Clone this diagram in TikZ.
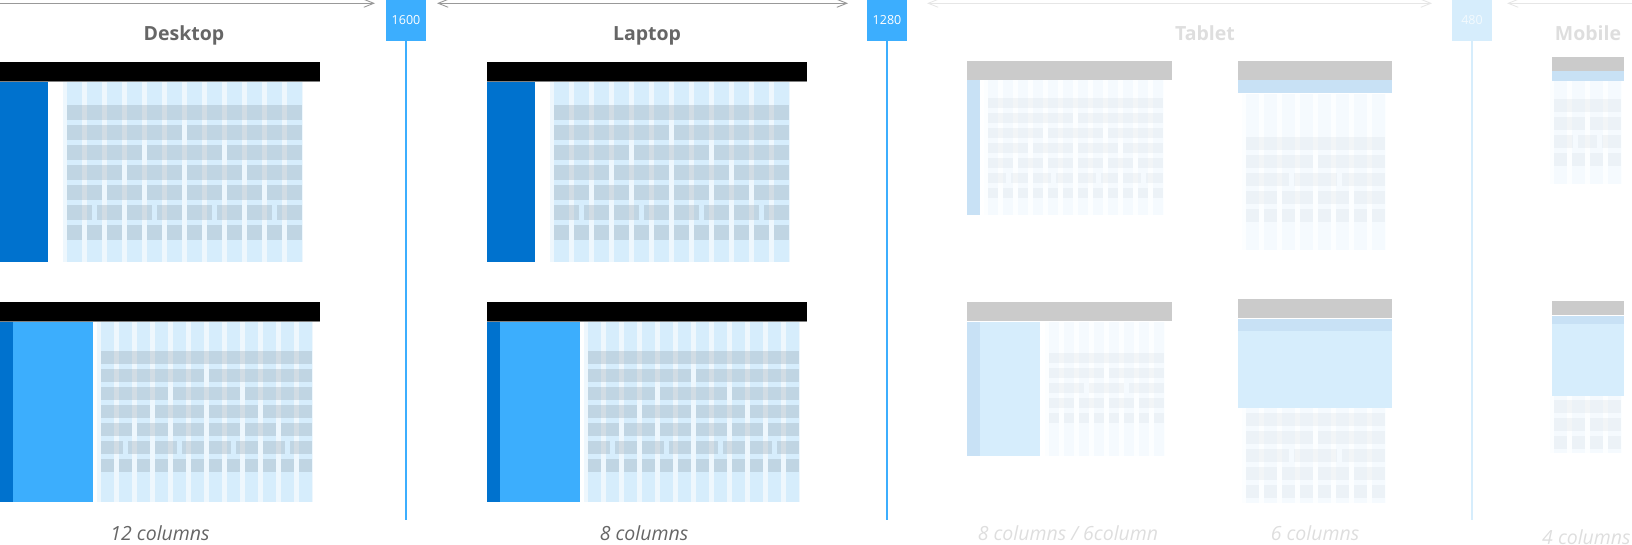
\documentclass[tikz,border=0pt]{standalone}
\usepackage{fontspec}
\setmainfont{Open Sans}
\usetikzlibrary{arrows.meta}
\definecolor{txtgray}{RGB}{102,102,102}
\definecolor{fadegray}{RGB}{222,222,222}
\definecolor{arrowgray}{RGB}{153,153,153}
\definecolor{arrowfade}{RGB}{230,230,230}
\definecolor{markblue}{RGB}{60,174,254}
\definecolor{markfade}{RGB}{214,237,252}
\definecolor{sidedark}{RGB}{0,114,206}
\definecolor{sidelight}{RGB}{60,174,253}
\definecolor{colblue}{RGB}{214,237,252}
\definecolor{gutterblue}{RGB}{238,247,253}
\definecolor{barblue}{RGB}{148,165,177}
\definecolor{barline}{RGB}{128,128,128}
\definecolor{bargray}{RGB}{203,203,203}
\definecolor{sideblue}{RGB}{200,225,245}

% grid: first col x, top, bottom, cols, col width, first row y, row height, bars per row
\newcommand{\uigrid}[8]{%
  \pgfmathsetmacro{\gw}{#4*(#5+5)-5}%
  \fill[gutter] (#1-4,#2) rectangle ({#1+\gw+1},#3);
  \foreach \cl in {1,...,#4} {\fill[colstrip] ({#1+(\cl-1)*(#5+5)},#2) rectangle ++(#5,{#3-#2});}
  \foreach \nb [count=\rw] in {#8} {
    \pgfmathsetmacro{\bw}{(\gw-(\nb-1)*5)/\nb}
    \foreach \bi in {1,...,\nb} {\fill[rowbar] ({#1+(\bi-1)*(\bw+5)},{#6+(\rw-1)*(#7+5)}) rectangle ++(\bw,#7);}
  }
}

\begin{document}
\begin{tikzpicture}[x=1pt, y=-1pt, >={Straight Barb[length=10pt,width=8pt]},
    devlbl/.style={font=\fontsize{19.5}{22}\selectfont\bfseries, text=txtgray, anchor=base, inner sep=0pt},
    collbl/.style={font=\fontsize{19.5}{21}\selectfont\itshape, text=txtgray, anchor=base, inner sep=0pt},
    bpbox/.style={fill=markblue, text=white, minimum width=40pt, minimum height=41pt, inner sep=0pt, font=\fontsize{12.5}{14}\selectfont},
    bpline/.style={draw=markblue, line width=1.5pt},
    dim/.style={draw=arrowgray, line width=0.9pt},
    gutter/.style={fill=gutterblue},
    colstrip/.style={fill=colblue},
    rowbar/.style={fill=barblue, fill opacity=0.32}
  ]
  \useasboundingbox (0,0) rectangle (1632,545);

  % desktop and laptop layouts
  \foreach \X in {0,487} {
    \fill[black] (\X,62) rectangle ++(320,19);
    \fill[barline] (\X,81) rectangle ++(320,1.2);
    \fill[sidedark] (\X,82.2) rectangle ++(48,180);
    \uigrid{\X+67}{82.2}{262}{12}{15}{105}{15}{1,2,3,4,6,8,12}
    \fill[black] (\X,302) rectangle ++(320,19);
    \fill[barline] (\X,320.5) rectangle ++(320,1.2);
    \fill[sidedark] (\X,321.7) rectangle ++(13,180.3);
    \fill[sidelight] (\X+13,321.7) rectangle ++(80,180.3);
    \uigrid{\X+101}{321.7}{502}{12}{13}{351}{13}{1,2,3,4,6,8,12}
  }

  % tablet and mobile layouts, faded
  \begin{scope}[colstrip/.style={fill=colblue!25}, gutter/.style={fill=gutterblue!15},
      rowbar/.style={fill=barblue, fill opacity=0.09}]
    % tablet
    \fill[bargray] (967,61) rectangle (1172,80);
    \fill[sideblue] (967,80.5) rectangle (980,215);
    \uigrid{988}{80.5}{215}{12}{10}{98}{10}{1,2,3,4,6,8,12}
    \fill[bargray] (1238,61) rectangle (1392,80);
    \fill[sideblue] (1238,80.5) rectangle (1392,93);
    \uigrid{1246}{94}{250}{8}{13}{137}{13}{1,2,3,4,8}
    \fill[bargray] (967,302) rectangle (1172,321);
    \fill[sideblue] (967,321.5) rectangle (980,456);
    \fill[colblue] (980,321.5) rectangle (1040,456);
    \uigrid{1049}{321.5}{456}{8}{10}{353}{10}{1,2,3,4,8}
    \fill[bargray] (1238,299) rectangle (1392,318);
    \fill[sideblue] (1238,318.5) rectangle (1392,331);
    \fill[colblue] (1238,331) rectangle (1392,408);
    \uigrid{1246}{408}{503}{8}{13}{413}{13}{1,2,3,4,8}
    % mobile
    \fill[bargray] (1552,57) rectangle (1624,71);
    \fill[sideblue] (1552,71.5) rectangle (1624,81);
    \uigrid{1554}{81}{184}{4}{13}{99}{13}{1,2,3,4}
    \fill[bargray] (1552,301) rectangle (1624,315);
    \fill[sideblue] (1552,315.5) rectangle (1624,324);
    \fill[colblue] (1552,324) rectangle (1624,396);
    \uigrid{1554}{396}{453}{4}{13}{400}{13}{1,2,4}
  \end{scope}

  % breakpoints
  \node[bpbox] (bp1600) at (406,20.5) {1600};
  \node[bpbox] (bp1280) at (887,20.5) {1280};
  \node[bpbox, fill=markfade, text=white!70!markfade] (bp480) at (1472,20.5) {480};
  \coordinate (e1600) at (406,520);
  \coordinate (e1280) at (887,520);
  \coordinate (e480) at (1472,520);
  \draw[bpline] (bp1600.south) -- (e1600);
  \draw[bpline] (bp1280.south) -- (e1280);
  \draw[bpline, draw=markfade] (bp480.south) -- (e480);

  % ranges
  \coordinate (dA) at (-2,3.3);
  \coordinate (dB) at (375,3.3);
  \coordinate (lA) at (437,3.3);
  \coordinate (lB) at (848,3.3);
  \coordinate (tA) at (927,3.3);
  \coordinate (tB) at (1432,3.3);
  \coordinate (mA) at (1507,3.3);
  \coordinate (mB) at (1634,3.3);
  \draw[dim, ->] (dA) -- (dB);
  \draw[dim, <->] (lA) -- (lB);
  \draw[dim, draw=arrowfade, <->] (tA) -- (tB);
  \draw[dim, draw=arrowfade, <-] (mA) -- (mB);

  % labels
  \node[devlbl] (desktop) at (184,40.5) {Desktop};
  \node[devlbl] (laptop) at (647,40.5) {Laptop};
  \node[devlbl, text=fadegray] (tablet) at (1205,40.5) {Tablet};
  \node[devlbl, text=fadegray] (mobile) at (1588,40.5) {Mobile};
  \node[collbl] (cDesktop) at (160,540) {12 columns};
  \node[collbl] (cLaptop) at (644,540) {8 columns};
  \node[collbl, text=fadegray] (cTablet) at (1068,540) {8 columns / 6column};
  \node[collbl, text=fadegray] (cTabletR) at (1315,540) {6 columns};
  \node[collbl, text=fadegray, anchor=base west] (cMobile) at (1542,544) {4 columns};
\end{tikzpicture}
\end{document}
